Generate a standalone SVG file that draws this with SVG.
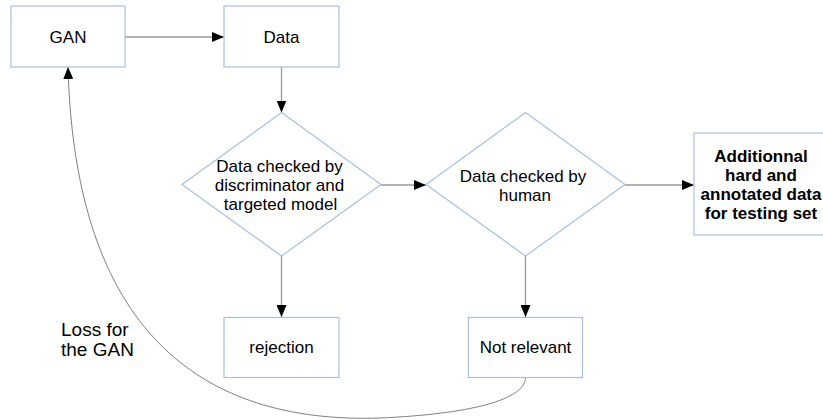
<svg xmlns="http://www.w3.org/2000/svg" width="823" height="420" viewBox="0 0 823 420">
<defs>
<style>
.box{fill:#ffffff;stroke:#a7c0e3;stroke-width:1.2}
.t{font-family:"Liberation Sans",Arial,sans-serif;font-size:17px;fill:#000;text-anchor:middle}
.b{font-weight:bold}
.l{font-family:"Liberation Sans",Arial,sans-serif;font-size:19px;fill:#000}
.edge{fill:none;stroke:#999999;stroke-width:1.3}
.curve{fill:none;stroke:#808080;stroke-width:1}
</style>
<marker id="ah" viewBox="0 0 12 10" refX="12" refY="5" markerWidth="12" markerHeight="10" markerUnits="userSpaceOnUse" orient="auto">
<path d="M0,0 L12,5 L0,10 Z" fill="#000"/>
</marker>
</defs>
<rect width="823" height="420" fill="#ffffff"/>
<g id="connectors">
<line class="edge" x1="125" y1="37" x2="224" y2="37" marker-end="url(#ah)"/>
<line class="edge" x1="281.5" y1="67" x2="281.5" y2="112.5" marker-end="url(#ah)"/>
<line class="edge" x1="381" y1="185" x2="426" y2="185" marker-end="url(#ah)"/>
<line class="edge" x1="625" y1="185" x2="694" y2="185" marker-end="url(#ah)"/>
<line class="edge" x1="281.5" y1="256" x2="281.5" y2="317" marker-end="url(#ah)"/>
<line class="edge" x1="525.5" y1="256" x2="525.5" y2="317" marker-end="url(#ah)"/>
<path class="curve" d="M525.5,377.5 C525,400 470,414 380,418 C200,424 75,330 68,67" marker-end="url(#ah)"/>
</g>
<g id="gan">
<rect class="box" x="11" y="6" width="114" height="61"/>
<text class="t" x="68" y="43">GAN</text>
</g>
<g id="data">
<rect class="box" x="224" y="6" width="115" height="61"/>
<text class="t" x="281.5" y="43">Data</text>
</g>
<g id="check-discriminator">
<polygon class="box" points="281.5,112.5 381,184.5 281.5,256 182,184.5"/>
<text class="t" x="279.5" y="172">Data checked by</text>
<text class="t" x="279.5" y="191">discriminator and</text>
<text class="t" x="280.5" y="210">targeted model</text>
</g>
<g id="check-human">
<polygon class="box" points="525.5,112.5 625,184.5 525.5,256 426,184.5"/>
<text class="t" x="523" y="182">Data checked by</text>
<text class="t" x="525" y="200.5">human</text>
</g>
<g id="additional">
<rect class="box" x="694" y="133" width="134" height="102"/>
<text class="t b" x="761" y="162">Additionnal</text>
<text class="t b" x="761" y="181">hard and</text>
<text class="t b" x="761" y="200">annotated data</text>
<text class="t b" x="761" y="218.5">for testing set</text>
</g>
<g id="rejection">
<rect class="box" x="224" y="317.5" width="115" height="60"/>
<text class="t" x="281.5" y="353">rejection</text>
</g>
<g id="not-relevant">
<rect class="box" x="468.5" y="317.5" width="114" height="60"/>
<text class="t" x="525.5" y="353">Not relevant</text>
</g>
<g id="loss-label">
<text class="l" x="61" y="335.5">Loss for</text>
<text class="l" x="61" y="356">the GAN</text>
</g>
</svg>
